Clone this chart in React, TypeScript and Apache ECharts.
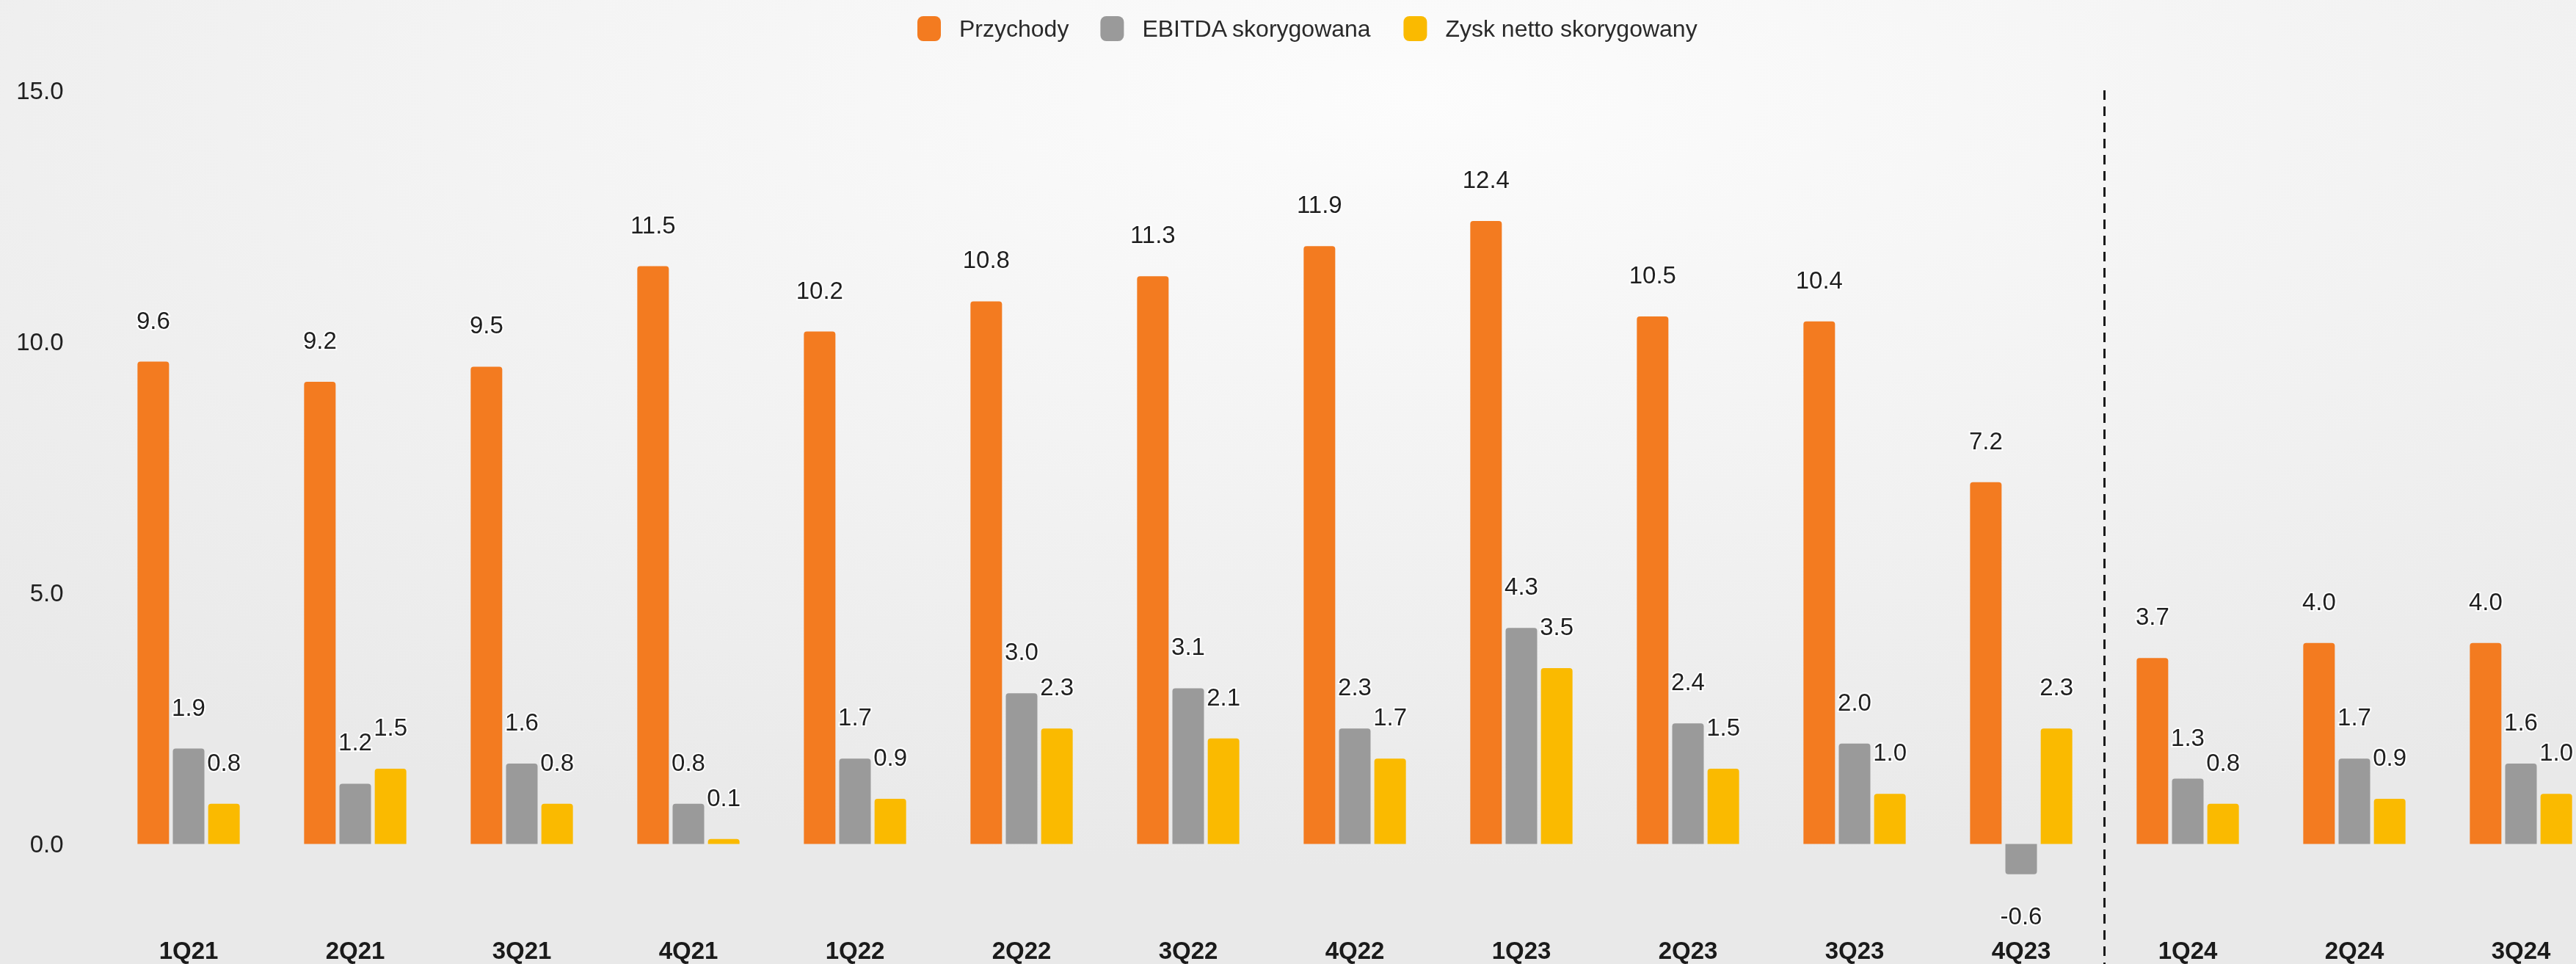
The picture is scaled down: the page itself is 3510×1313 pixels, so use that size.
import React, { useEffect, useRef } from "react";
import * as echarts from "echarts";

const categories = ["1Q21", "2Q21", "3Q21", "4Q21", "1Q22", "2Q22", "3Q22", "4Q22", "1Q23", "2Q23", "3Q23", "4Q23", "1Q24", "2Q24", "3Q24"];
const revenue = [9.6, 9.2, 9.5, 11.5, 10.2, 10.8, 11.3, 11.9, 12.4, 10.5, 10.4, 7.2, 3.7, 4.0, 4.0];
const ebitda = [1.9, 1.2, 1.6, 0.8, 1.7, 3.0, 3.1, 2.3, 4.3, 2.4, 2.0, -0.6, 1.3, 1.7, 1.6];
const netProfit = [0.8, 1.5, 0.8, 0.1, 0.9, 2.3, 2.1, 1.7, 3.5, 1.5, 1.0, 2.3, 0.8, 0.9, 1.0];
const seriesNames = ["Przychody", "EBITDA skorygowana", "Zysk netto skorygowany"];
const yTickLabels = [0, 5, 10, 15];
const colors = ["#F37B20", "#9A9A9A", "#FABA00"];
const dividerAfter = "4Q23";

export default function App() {
  const ref = useRef<HTMLDivElement>(null);
  useEffect(() => {
    const chart = echarts.init(ref.current!, null, { renderer: "svg" });
    const font = "'Liberation Sans', Arial, sans-serif";
    const mkData = (vals: number[]) =>
      vals.map((v) =>
        v < 0
          ? { value: v, itemStyle: { borderRadius: [0, 0, 4, 4] }, label: { position: "bottom" } }
          : { value: v }
      );
    const label = {
      show: true,
      position: "top",
      distance: 40,
      formatter: (p: any) => Number(p.value).toFixed(1),
      fontSize: 33,
      fontFamily: font,
      color: "#1f1f1f",
      textBorderColor: "#ffffff",
      textBorderWidth: 4,
    };
    const mkSeries = (name: string, vals: number[], color: string) => ({
      type: "bar",
      name,
      data: mkData(vals),
      barWidth: 43,
      barGap: "12%",
      itemStyle: { color, borderRadius: [4, 4, 0, 0] },
      label,
    });
    chart.setOption({
      animation: false,
      backgroundColor: new echarts.graphic.RadialGradient(0.55, 0.1, 0.8, [
        { offset: 0, color: "#fcfcfc" },
        { offset: 1, color: "#e9e9e9" },
      ]),
      legend: {
        left: 1245,
        top: 17,
        itemWidth: 32,
        itemHeight: 34,
        itemGap: 43,
        icon: "roundRect",
        textStyle: { fontSize: 32, fontFamily: font, color: "#2a2a2a", padding: [0, 0, 0, 20] },
        data: seriesNames,
      },
      grid: { left: 143.5, top: 123, width: 3405, height: 1095, outerBoundsMode: "none", containLabel: false },
      xAxis: {
        type: "category",
        data: categories,
        axisLine: { show: false },
        axisTick: { show: false },
        axisLabel: { fontSize: 33, fontWeight: "bold", fontFamily: font, color: "#1a1a1a", margin: 60 },
      },
      yAxis: {
        type: "value",
        min: -1,
        max: 15,
        interval: 1,
        splitLine: { show: false },
        axisLine: { show: false },
        axisTick: { show: false },
        axisLabel: {
          fontSize: 33,
          fontFamily: font,
          color: "#1f1f1f",
          margin: 57,
          formatter: (v: number) => (yTickLabels.includes(v) ? v.toFixed(1) : ""),
        },
      },
      series: [
        mkSeries(seriesNames[0], revenue, colors[0]),
        mkSeries(seriesNames[1], ebitda, colors[1]),
        mkSeries(seriesNames[2], netProfit, colors[2]),
      ],
    });
    const idx = categories.indexOf(dividerAfter);
    const xa = chart.convertToPixel({ xAxisIndex: 0 }, categories[idx]) as number;
    const xb = chart.convertToPixel({ xAxisIndex: 0 }, categories[idx + 1]) as number;
    const yTop = chart.convertToPixel({ yAxisIndex: 0 }, 15) as number;
    const xm = (xa + xb) / 2;
    chart.setOption({
      graphic: [
        {
          type: "line",
          shape: { x1: xm, y1: yTop, x2: xm, y2: 1313 },
          style: { stroke: "#1a1a1a", lineWidth: 3, lineDash: [13, 9] },
        },
      ],
    });
    return () => chart.dispose();
  }, []);
  return <div ref={ref} style={{ position: "fixed", left: 0, top: 0, width: 3510, height: 1313 }} />;
}
